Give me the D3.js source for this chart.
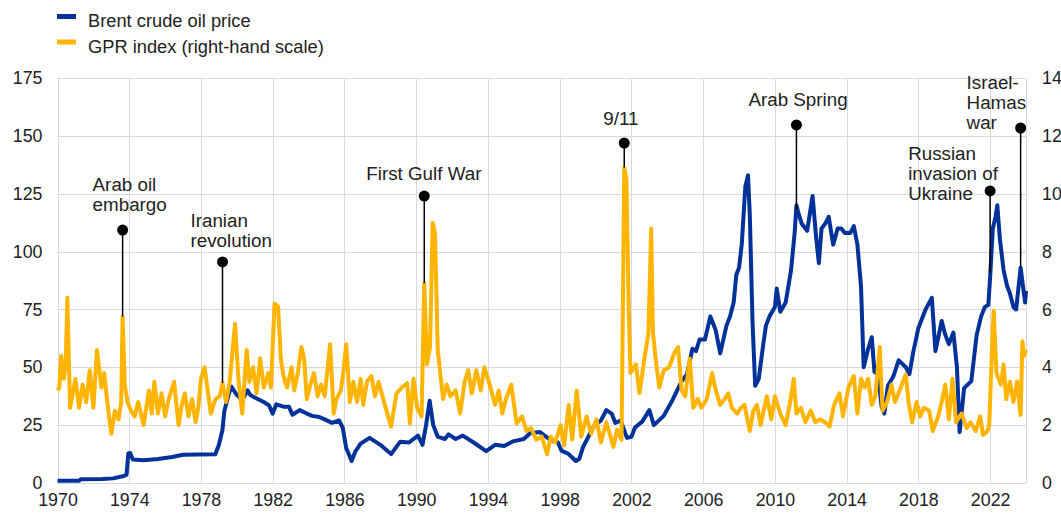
<!DOCTYPE html>
<html>
<head>
<meta charset="utf-8">
<script src="https://cdn.jsdelivr.net/npm/d3@7"></script>
<style>
  html, body { margin: 0; padding: 0; background: #fff; }
  svg { display: block; font-family: "Liberation Sans", Arial, sans-serif; }
  .tick text { fill: #222; font-size: 17.8px; }
  .grid line { stroke: #d9d9d9; stroke-width: 1; }
  .event text { fill: #222; font-size: 18.8px; }
</style>
</head>
<body>
<svg id="chart" width="1061" height="526"></svg>
<script>
// Brent crude oil price, USD per barrel
var brentDate = [1970.0, 1971.2, 1971.3, 1972.5, 1973.1, 1973.7, 1973.85, 1973.95, 1974.05, 1974.2, 1974.8, 1975.6, 1976.4, 1977.0, 1978.8,
  1979.0, 1979.2, 1979.3, 1979.55, 1979.7, 1980.0, 1980.3, 1980.6, 1980.75, 1981.1, 1981.5, 1981.8, 1982.0, 1982.2, 1982.6, 1982.9,
  1983.1, 1983.5, 1983.9, 1984.2, 1984.6, 1984.9, 1985.3, 1985.7, 1985.9, 1986.1, 1986.4, 1986.6, 1986.9, 1987.4, 1987.7, 1988.0,
  1988.6, 1989.1, 1989.6, 1990.1, 1990.35, 1990.55, 1990.75, 1990.95, 1991.2, 1991.6, 1991.8, 1992.2, 1992.6, 1993.2, 1993.9,
  1994.4, 1994.9, 1995.4, 1996.0, 1996.35, 1996.9, 1997.5, 1997.9, 1998.1, 1998.5, 1998.9, 1999.1, 1999.3, 1999.6, 1999.9,
  2000.3, 2000.6, 2000.9, 2001.1, 2001.4, 2001.75, 2002.0, 2002.2, 2002.6, 2003.0, 2003.25, 2003.8, 2004.3, 2004.8, 2005.1,
  2005.4, 2005.6, 2005.8, 2006.1, 2006.4, 2006.7, 2006.95, 2007.3, 2007.5, 2007.7, 2007.85, 2008.0, 2008.15, 2008.35, 2008.5,
  2008.6, 2008.75, 2008.9, 2009.1, 2009.35, 2009.5, 2009.7, 2010.0, 2010.1, 2010.3, 2010.6, 2010.9, 2011.1, 2011.2, 2011.3,
  2011.5, 2011.8, 2012.1, 2012.3, 2012.45, 2012.6, 2012.8, 2013.0, 2013.25, 2013.5, 2013.7, 2013.9, 2014.2, 2014.4, 2014.6,
  2014.8, 2014.95, 2015.2, 2015.4, 2015.55, 2015.75, 2015.95, 2016.1, 2016.3, 2016.6, 2016.9, 2017.3, 2017.5, 2017.7, 2018.0,
  2018.4, 2018.75, 2018.95, 2019.3, 2019.5, 2019.7, 2019.95, 2020.15, 2020.3, 2020.55, 2020.95, 2021.25, 2021.5, 2021.7,
  2021.9, 2022.0, 2022.15, 2022.3, 2022.4, 2022.55, 2022.75, 2022.95, 2023.1, 2023.3, 2023.45, 2023.7, 2023.85, 2023.95, 2024.0];
var brentPrice = [1.0, 1.0, 1.6, 1.7, 2.0, 3.0, 3.6, 12.8, 13.0, 10.2, 9.8, 10.4, 11.2, 12.2, 12.4,
  16.5, 23, 31, 38.5, 41.6, 38, 36, 40, 38, 36.5, 35, 33.5, 30, 34, 33, 33,
  29.5, 31.5, 30, 29, 28.5, 27.5, 26, 27, 24, 15, 9.5, 13.5, 17, 19.5, 18, 16.5,
  12.5, 17.8, 17.5, 20.5, 16.5, 25, 35.5, 25, 20, 19, 21, 19, 20.5, 17.5, 13.8,
  16.5, 16, 18, 19, 21.5, 22, 18.5, 17.5, 14, 12.5, 9.5, 10.5, 15.5, 20, 24.5,
  27, 31.5, 30, 26, 27, 19.5, 20, 24, 26.5, 31.5, 25, 29, 36, 44, 47,
  58, 57, 62, 62, 72, 66, 56, 68, 72, 78, 90, 93, 103, 128, 133,
  116, 70, 42, 45, 60, 68, 72, 76, 84, 74, 78, 92, 108, 120, 117,
  112, 109, 124, 106, 95, 110, 112, 115, 103, 110, 110, 108, 108, 111, 103,
  85, 50, 58, 63, 48, 47, 33, 30, 42, 46, 53, 50, 47, 56, 67,
  75, 80, 57, 70, 64, 60, 65, 50, 22, 41, 44, 64, 72, 76,
  77, 89, 110, 115, 120, 105, 92, 85, 82, 76, 75, 93, 84, 78, 83];

// Geopolitical risk (GPR) index, right-hand scale
var gprDate = [1970.0, 1970.1, 1970.2, 1970.35, 1970.45, 1970.55, 1970.7, 1971.0, 1971.2, 1971.4, 1971.6, 1971.8, 1972.0, 1972.2,
  1972.45, 1972.6, 1972.85, 1973.0, 1973.2, 1973.4, 1973.55, 1973.63, 1973.75, 1973.9, 1974.1, 1974.3, 1974.5, 1974.8, 1975.1,
  1975.25, 1975.4, 1975.6, 1975.8, 1976.0, 1976.2, 1976.5, 1976.75, 1976.9, 1977.1, 1977.3, 1977.5, 1977.7, 1977.85, 1978.0,
  1978.2, 1978.35, 1978.55, 1978.8, 1979.05, 1979.2, 1979.4, 1979.6, 1979.9, 1980.1, 1980.3, 1980.55, 1980.7, 1980.9, 1981.1,
  1981.3, 1981.5, 1981.75, 1981.9, 1982.1, 1982.3, 1982.45, 1982.6, 1982.8, 1983.05, 1983.2, 1983.4, 1983.6, 1983.75, 1983.9,
  1984.1, 1984.3, 1984.5, 1984.7, 1984.9, 1985.2, 1985.4, 1985.55, 1985.8, 1985.95, 1986.1, 1986.3, 1986.5, 1986.7, 1986.9,
  1987.05, 1987.25, 1987.5, 1987.7, 1987.9, 1988.25, 1988.6, 1988.9, 1989.2, 1989.5, 1989.65, 1989.85, 1990.05, 1990.3, 1990.45,
  1990.6, 1990.77, 1990.92, 1991.05, 1991.2, 1991.5, 1991.7, 1991.9, 1992.2, 1992.45, 1992.7, 1992.9, 1993.1, 1993.35, 1993.6,
  1993.8, 1994.1, 1994.4, 1994.6, 1994.8, 1995.0, 1995.3, 1995.6, 1995.9, 1996.15, 1996.4, 1996.7, 1997.0, 1997.3, 1997.5,
  1997.75, 1998.05, 1998.25, 1998.5, 1998.7, 1998.95, 1999.2, 1999.5, 1999.75, 2000.05, 2000.3, 2000.6, 2001.0, 2001.2, 2001.45,
  2001.6, 2001.72, 2001.85, 2001.95, 2002.25, 2002.45, 2002.7, 2002.95, 2003.1, 2003.2, 2003.35, 2003.55, 2003.8, 2004.1, 2004.4,
  2004.6, 2004.8, 2005.0, 2005.25, 2005.45, 2005.7, 2005.9, 2006.2, 2006.5, 2006.7, 2006.95, 2007.2, 2007.4, 2007.6, 2007.9,
  2008.1, 2008.3, 2008.6, 2008.8, 2009.0, 2009.2, 2009.55, 2009.8, 2010.0, 2010.3, 2010.6, 2010.85, 2011.05, 2011.2, 2011.45,
  2011.7, 2012.0, 2012.25, 2012.5, 2012.8, 2013.05, 2013.3, 2013.6, 2013.8, 2014.1, 2014.4, 2014.6, 2014.8, 2015.0, 2015.2,
  2015.4, 2015.6, 2015.85, 2016.0, 2016.25, 2016.5, 2016.7, 2016.95, 2017.3, 2017.45, 2017.65, 2017.9, 2018.1, 2018.3, 2018.6,
  2018.8, 2019.1, 2019.3, 2019.5, 2019.7, 2019.9, 2020.1, 2020.4, 2020.7, 2020.9, 2021.2, 2021.45, 2021.6, 2021.85, 2021.95,
  2022.1, 2022.2, 2022.35, 2022.6, 2022.75, 2022.9, 2023.1, 2023.3, 2023.5, 2023.7, 2023.8, 2023.9, 2024.0];
var gprIndex = [3.2, 3.3, 4.4, 3.6, 4.0, 6.4, 2.6, 3.6, 2.6, 3.4, 2.8, 3.9, 2.6, 4.6,
  3.3, 3.8, 2.4, 1.7, 2.5, 2.2, 2.8, 5.75, 3.4, 2.8, 2.5, 2.3, 2.8, 2.0, 3.2,
  2.4, 3.5, 2.4, 3.1, 2.3, 2.9, 3.5, 2.0, 2.6, 3.1, 2.3, 2.9, 2.1, 2.6, 3.6,
  4.0, 3.3, 2.4, 2.9, 3.0, 3.45, 2.8, 3.5, 5.5, 3.5, 2.4, 4.6, 3.5, 4.0, 3.1,
  4.3, 3.3, 3.8, 3.3, 6.2, 6.1, 4.3, 3.7, 3.3, 4.0, 3.2, 3.8, 4.7, 4.3, 2.9,
  3.4, 3.8, 3.0, 3.4, 3.0, 4.8, 2.4, 2.9, 3.2, 3.9, 4.8, 2.8, 3.5, 2.8, 3.6,
  2.7, 3.5, 3.7, 3.0, 3.5, 2.7, 1.95, 3.1, 3.3, 3.45, 2.06, 3.6, 2.6, 2.3, 6.9,
  4.1, 4.7, 9.0, 8.6, 4.6, 2.9, 3.4, 3.0, 3.2, 2.4, 3.5, 3.9, 3.1, 3.9, 3.2,
  4.0, 3.4, 2.7, 3.2, 2.4, 2.9, 3.4, 2.06, 2.3, 1.8, 1.9, 1.5, 1.6, 1.0, 1.6,
  1.4, 2.0, 1.3, 2.7, 1.5, 3.2, 1.6, 2.3, 1.7, 2.2, 1.4, 2.1, 1.25, 1.85, 1.5,
  10.9, 10.5, 6.0, 3.8, 4.1, 3.1, 4.2, 5.2, 8.8, 5.2, 4.3, 3.3, 3.9, 4.0, 4.5,
  4.7, 3.2, 3.0, 4.3, 2.6, 2.9, 2.6, 2.9, 3.8, 3.2, 2.7, 2.9, 3.1, 2.6, 2.4,
  2.6, 2.7, 1.8, 2.5, 2.7, 2.0, 3.0, 2.2, 3.0, 2.4, 2.0, 2.8, 3.6, 2.4, 2.6,
  2.1, 2.5, 2.1, 2.2, 2.1, 1.95, 2.7, 3.1, 2.3, 3.3, 3.7, 2.4, 3.6, 3.3, 3.6,
  2.7, 3.0, 4.7, 2.5, 2.8, 3.4, 2.8, 3.2, 3.75, 2.8, 2.1, 2.8, 2.3, 2.6, 2.5,
  1.8, 2.3, 2.8, 3.4, 2.2, 3.6, 2.1, 2.4, 1.9, 2.1, 1.8, 2.3, 1.66, 1.8, 2.0,
  4.55, 5.95, 3.8, 3.4, 4.1, 2.9, 3.5, 2.8, 3.5, 2.35, 4.9, 4.4, 4.6];

var leftTicks = [0, 25, 50, 75, 100, 125, 150, 175];
var rightTicks = [0, 2, 4, 6, 8, 10, 12, 14];
var yearTicks = [1970, 1974, 1978, 1982, 1986, 1990, 1994, 1998, 2002, 2006, 2010, 2014, 2018, 2022];

// events: date, marker value and where the stem ends (left-hand units)
var eventLabels = [["Arab oil", "embargo"], ["Iranian", "revolution"], ["First Gulf War"], ["9/11"],
  ["Arab Spring"], ["Russian", "invasion of", "Ukraine"], ["Israel-", "Hamas", "war"]];
var eventDate = [1973.63, 1979.2, 1990.45, 2001.6, 2011.2, 2022.0, 2023.7];
var eventTop = [109.3, 95.5, 124, 146.9, 154.7, 126.2, 153.4];
var eventBase = [71.9, 43.2, 86.3, 136.3, 118, 90.7, 93.3];

var colors = { brent: "#003299", gpr: "#ffb400" };

var svg = d3.select("#chart");
var plot = { left: 57.5, right: 1026, top: 78, bottom: 483 };

var x = d3.scaleLinear().domain([1970, 2024]).range([plot.left, plot.right]);
var yL = d3.scaleLinear().domain([0, 175]).range([plot.bottom, plot.top]);
var yR = d3.scaleLinear().domain([0, 14]).range([plot.bottom, plot.top]);

// grid
var grid = svg.append("g").attr("class", "grid");
grid.selectAll("line.h").data(leftTicks).enter().append("line")
  .attr("x1", plot.left).attr("x2", plot.right)
  .attr("y1", function (d) { return Math.round(yL(d)) + 0.5; })
  .attr("y2", function (d) { return Math.round(yL(d)) + 0.5; });
grid.selectAll("line.v").data(yearTicks.concat([2024])).enter().append("line")
  .attr("y1", plot.top).attr("y2", plot.bottom)
  .attr("x1", function (d) { return Math.round(x(d)) + 0.5; })
  .attr("x2", function (d) { return Math.round(x(d)) + 0.5; });

// axes
svg.append("g").attr("transform", "translate(" + plot.left + ",0)")
  .call(d3.axisLeft(yL).tickValues(leftTicks).tickSize(0).tickPadding(15))
  .call(function (g) { g.select(".domain").remove(); });
svg.append("g").attr("transform", "translate(" + plot.right + ",0)")
  .call(d3.axisRight(yR).tickValues(rightTicks).tickSize(0).tickPadding(16))
  .call(function (g) { g.select(".domain").remove(); });
svg.append("g").attr("transform", "translate(0," + plot.bottom + ")")
  .call(d3.axisBottom(x).tickValues(yearTicks).tickFormat(d3.format("d")).tickSize(0).tickPadding(10))
  .call(function (g) { g.select(".domain").remove(); });
svg.selectAll(".tick text").attr("font-family", null).attr("font-size", null);

// series
var brent = brentDate.map(function (d, i) { return [d, brentPrice[i]]; });
var gpr = gprDate.map(function (d, i) { return [d, gprIndex[i]]; });

svg.append("path").datum(brent)
  .attr("fill", "none").attr("stroke", colors.brent).attr("stroke-width", 4)
  .attr("stroke-linejoin", "round")
  .attr("d", d3.line().x(function (d) { return x(d[0]); }).y(function (d) { return yL(d[1]); }));

svg.append("path").datum(gpr)
  .attr("fill", "none").attr("stroke", colors.gpr).attr("stroke-width", 4)
  .attr("stroke-linejoin", "round")
  .attr("d", d3.line().x(function (d) { return x(d[0]); }).y(function (d) { return yR(d[1]); }));

// events: label offset from the marker (left edge, last baseline)
var labelOffset = [[-30, -19], [-32, -15], [-58, -16], [-21, -18], [-48, -19], [-82, 9], [-54, 1]];
var lineGap = 20;

var ev = svg.selectAll("g.event").data(eventDate).enter().append("g").attr("class", "event");
ev.append("line")
  .attr("x1", function (d) { return x(d); }).attr("x2", function (d) { return x(d); })
  .attr("y1", function (d, i) { return yL(eventTop[i]); })
  .attr("y2", function (d, i) { return yL(eventBase[i]); })
  .attr("stroke", "#000").attr("stroke-width", 1.5);
ev.append("circle")
  .attr("cx", function (d) { return x(d); })
  .attr("cy", function (d, i) { return yL(eventTop[i]); })
  .attr("r", 5.5).attr("fill", "#000");
ev.each(function (d, i) {
  var g = d3.select(this);
  var lines = eventLabels[i];
  var x0 = x(d) + labelOffset[i][0];
  var yLast = yL(eventTop[i]) + labelOffset[i][1];
  lines.forEach(function (t, k) {
    g.append("text").attr("x", x0).attr("y", yLast - (lines.length - 1 - k) * lineGap).text(t);
  });
});

// legend
var legendItems = [["Brent crude oil price", colors.brent], ["GPR index (right-hand scale)", colors.gpr]];
var legend = svg.append("g");
legendItems.forEach(function (item, i) {
  legend.append("rect").attr("x", 57).attr("y", 14 + i * 25.5).attr("width", 19).attr("height", 5).attr("fill", item[1]);
  legend.append("text").attr("x", 88).attr("y", 27 + i * 26)
    .attr("font-size", "18.3px").attr("fill", "#222").text(item[0]);
});
</script>
</body>
</html>
